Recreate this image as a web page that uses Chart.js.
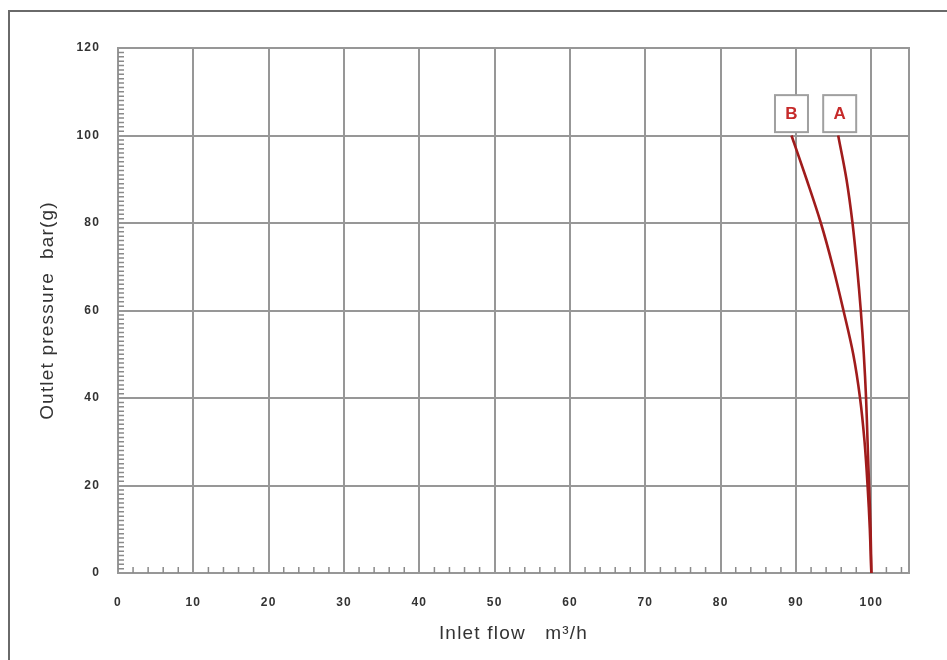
<!DOCTYPE html>
<html>
<head>
<meta charset="utf-8">
<script src="https://cdn.jsdelivr.net/npm/chart.js@4/dist/chart.umd.min.js"></script>
<style>
html,body{margin:0;padding:0;background:#fff;}
#wrap{width:947px;height:660px;position:relative;}
</style>
</head>
<body>
<div id="wrap"><canvas id="c" width="947" height="660"></canvas></div>
<script>
// ---- data ----
const xTickValues = [0, 10, 20, 30, 40, 50, 60, 70, 80, 90, 100];
const yTickValues = [0, 20, 40, 60, 80, 100, 120];

// Curve A: inlet flow (m3/h) vs outlet pressure (bar g)
const curveA_flow     = [100, 99.9, 99.7, 99.5, 99.3, 99.0, 98.6, 98.1, 97.5, 96.7, 95.6];
const curveA_pressure = [0,   10,   20,   30,   40,   50,   60,   70,   80,   90,   100];

// Curve B
const curveB_flow     = [100, 99.8, 99.5, 99.1, 98.5, 97.6, 96.3, 94.9, 93.3, 91.4, 89.4];
const curveB_pressure = [0,   10,   20,   30,   40,   50,   60,   70,   80,   90,   100];

// Curve tags
const tagNames    = ['B', 'A'];
const tagFlow     = [89.4, 95.8];
const tagPressure = [105, 105];

const xMin = 0, xMax = 105, yMin = 0, yMax = 120;
const xMinorStep = 2, yMinorStep = 1;

const toPoints = (xs, ys) => xs.map((v, i) => ({x: v, y: ys[i]}));

const GRID = '#979797';
const FONT = "'Liberation Sans', Arial, Helvetica, sans-serif";

const decor = {
  id: 'decor',
  beforeDraw(chart) {
    const ctx = chart.ctx;
    ctx.save();
    ctx.fillStyle = '#fff';
    ctx.fillRect(0, 0, chart.width, chart.height);
    ctx.strokeStyle = '#6a6a6a';
    ctx.lineWidth = 2;
    ctx.beginPath();
    ctx.moveTo(9, chart.height);
    ctx.lineTo(9, 11);
    ctx.lineTo(chart.width, 11);
    ctx.stroke();
    ctx.restore();
    ctx.letterSpacing = '1.2px';
  },
  beforeDatasetsDraw(chart) {
    const ctx = chart.ctx, a = chart.chartArea;
    const xs = chart.scales.x, ys = chart.scales.y;
    ctx.save();
    ctx.strokeStyle = GRID;
    ctx.lineWidth = 2;
    ctx.strokeRect(a.left, a.top, a.right - a.left, a.bottom - a.top);
    ctx.strokeStyle = '#8a8a8a';
    ctx.lineWidth = 1.5;
    ctx.beginPath();
    for (let v = xMin + xMinorStep; v < xMax; v += xMinorStep) {
      if (v % 10 === 0) continue;
      const px = xs.getPixelForValue(v);
      ctx.moveTo(px, a.bottom);
      ctx.lineTo(px, a.bottom - 6);
    }
    for (let v = yMin + yMinorStep; v < yMax; v += yMinorStep) {
      if (v % 20 === 0) continue;
      const py = ys.getPixelForValue(v);
      ctx.moveTo(a.left, py);
      ctx.lineTo(a.left + 6, py);
    }
    ctx.stroke();
    ctx.restore();
  },
  afterDatasetsDraw(chart) {
    const ctx = chart.ctx;
    const xs = chart.scales.x, ys = chart.scales.y;
    ctx.save();
    ctx.letterSpacing = '0px';
    tagNames.forEach((t, i) => {
      const cx = xs.getPixelForValue(tagFlow[i]);
      const cy = ys.getPixelForValue(tagPressure[i]);
      const w = 33, h = 37;
      ctx.fillStyle = '#fff';
      ctx.fillRect(cx - w / 2, cy - h / 2, w, h);
      ctx.strokeStyle = '#a0a0a0';
      ctx.lineWidth = 2;
      ctx.strokeRect(cx - w / 2, cy - h / 2, w, h);
      ctx.fillStyle = '#c62a2a';
      ctx.font = 'bold 17px ' + FONT;
      ctx.textAlign = 'center';
      ctx.textBaseline = 'middle';
      ctx.fillText(t, cx, cy + 1);
    });
    ctx.restore();
  }
};

new Chart(document.getElementById('c'), {
  type: 'scatter',
  data: {
    datasets: [
      {
        label: 'A',
        data: toPoints(curveA_flow, curveA_pressure),
        showLine: true,
        borderColor: '#a01c1c',
        borderWidth: 2.6,
        pointRadius: 0,
        tension: 0.35,
        fill: false
      },
      {
        label: 'B',
        data: toPoints(curveB_flow, curveB_pressure),
        showLine: true,
        borderColor: '#a01c1c',
        borderWidth: 2.6,
        pointRadius: 0,
        tension: 0.35,
        fill: false
      }
    ]
  },
  options: {
    responsive: false,
    animation: false,
    devicePixelRatio: 1,
    layout: {padding: {left: 0, right: 38, top: 48, bottom: 0}},
    plugins: {legend: {display: false}, tooltip: {enabled: false}},
    scales: {
      x: {
        type: 'linear',
        min: xMin, max: xMax,
        afterBuildTicks: s => { s.ticks = xTickValues.map(v => ({value: v})); },
        afterFit: s => { s.height = 87; },
        grid: {color: GRID, lineWidth: 2, drawTicks: false},
        border: {display: true, color: GRID, width: 2},
        ticks: {color: '#333', padding: 22, font: {family: FONT, size: 12, weight: 'bold'}},
        title: {display: true, text: 'Inlet flow   m³/h', color: '#333',
                font: {family: FONT, size: 19}, padding: {top: 0, bottom: 15}}
      },
      y: {
        type: 'linear',
        min: yMin, max: yMax,
        afterBuildTicks: s => { s.ticks = yTickValues.map(v => ({value: v})); },
        afterFit: s => { s.width = 118; },
        grid: {color: GRID, lineWidth: 2, drawTicks: false},
        border: {display: true, color: GRID, width: 2},
        ticks: {color: '#333', padding: 18, font: {family: FONT, size: 12, weight: 'bold'}},
        title: {display: true, text: 'Outlet pressure  bar(g)', color: '#333',
                font: {family: FONT, size: 19}, padding: {top: 36, bottom: 0}}
      }
    }
  },
  plugins: [decor]
});
</script>
</body>
</html>
